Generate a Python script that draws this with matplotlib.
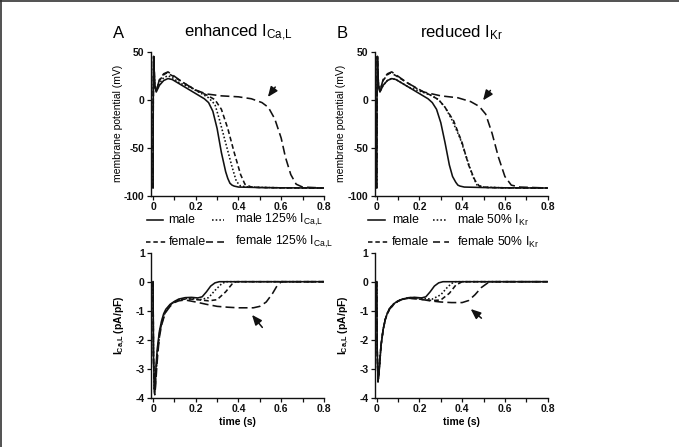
import numpy as np
import matplotlib
matplotlib.use("Agg")
from matplotlib import pyplot as plt
from matplotlib.lines import Line2D

plt.rcParams['font.family'] = ['Liberation Sans', 'DejaVu Sans']
plt.rcParams['mathtext.default'] = 'regular'
plt.rcParams['axes.unicode_minus'] = False

####### data #######
# membrane potential (mV), panel A / B
t_male = [0, 0.001, 0.003, 0.008, 0.015, 0.03, 0.05, 0.07, 0.09, 0.12, 0.15, 0.18, 0.21, 0.24, 0.26,
          0.28, 0.30, 0.32, 0.34, 0.35, 0.36, 0.37, 0.38, 0.40, 0.5, 0.6, 0.8]
v_male = [-92, 0, 45, 15, 8, 15, 20, 22, 21, 17, 13, 9, 5, 1, -3,
          -12, -30, -55, -75, -82, -87, -89, -90, -91, -91.5, -91.8, -92]

t_m125 = [0, 0.001, 0.003, 0.008, 0.015, 0.03, 0.05, 0.07, 0.09, 0.12, 0.18, 0.23, 0.26, 0.29, 0.31,
          0.34, 0.37, 0.39, 0.41, 0.45, 0.6, 0.8]
v_m125 = [-92, 0, 45, 15, 9, 17, 23, 25, 23, 18, 12, 6, 2, -5, -20,
          -45, -70, -85, -90, -91, -91.8, -92]

t_fem = [0, 0.001, 0.003, 0.008, 0.015, 0.03, 0.05, 0.065, 0.09, 0.14, 0.2, 0.25, 0.29, 0.32, 0.35,
         0.38, 0.41, 0.43, 0.46, 0.5, 0.6, 0.8]
v_fem = [-92, 0, 45, 15, 9, 20, 26, 28, 25, 18, 10, 5, 0, -10, -30,
         -55, -78, -88, -91, -91.5, -91.8, -92]

t_f125 = [0, 0.001, 0.003, 0.008, 0.015, 0.03, 0.05, 0.07, 0.09, 0.14, 0.2, 0.25, 0.32, 0.4, 0.46,
          0.51, 0.54, 0.57, 0.6, 0.62, 0.645, 0.67, 0.7, 0.8]
v_f125 = [-92, 0, 45, 15, 9, 21, 27, 29, 26, 18, 10, 6, 4, 3, 1,
          -3, -8, -20, -40, -60, -78, -88, -91, -92]

t_male_b = [0, 0.001, 0.003, 0.008, 0.015, 0.03, 0.05, 0.07, 0.09, 0.12, 0.15, 0.18, 0.21, 0.24, 0.26,
            0.28, 0.30, 0.32, 0.34, 0.355, 0.37, 0.38, 0.39, 0.41, 0.5, 0.6, 0.8]
v_male_b = [-92, 0, 45, 15, 8, 15, 20, 22, 21, 17, 13, 9, 5, 1, -3,
            -10, -24, -45, -68, -80, -86, -89, -90, -91, -91.5, -91.8, -92]

t_m50 = [0, 0.001, 0.003, 0.008, 0.015, 0.03, 0.05, 0.07, 0.09, 0.12, 0.15, 0.2, 0.25, 0.29, 0.32,
         0.35, 0.39, 0.42, 0.45, 0.47, 0.5, 0.6, 0.8]
v_m50 = [-92, 0, 45, 15, 8, 15, 20, 22, 21, 17, 13, 9, 5, 0, -8,
         -20, -40, -60, -80, -89, -91, -91.8, -92]

t_fem_b = [0, 0.001, 0.003, 0.008, 0.015, 0.03, 0.05, 0.065, 0.09, 0.14, 0.2, 0.25, 0.29, 0.32, 0.36,
           0.40, 0.43, 0.46, 0.48, 0.52, 0.6, 0.8]
v_fem_b = [-92, 0, 45, 15, 9, 20, 26, 28, 25, 18, 10, 5, 0, -8, -22,
           -45, -68, -84, -90, -91.5, -91.8, -92]

t_f50 = [0, 0.001, 0.003, 0.008, 0.015, 0.03, 0.05, 0.07, 0.09, 0.14, 0.22, 0.3, 0.38, 0.44, 0.48,
         0.51, 0.54, 0.57, 0.6, 0.63, 0.67, 0.8]
v_f50 = [-92, 0, 45, 15, 9, 21, 27, 29, 26, 18, 8, 4, 2, -2, -7,
         -15, -35, -60, -80, -89, -91, -92]

# L-type calcium current (pA/pF)
ti_male = [0, 0.002, 0.006, 0.01, 0.015, 0.02, 0.03, 0.04, 0.05, 0.06, 0.08, 0.1, 0.12, 0.15, 0.18,
           0.21, 0.23, 0.25, 0.27, 0.29, 0.31, 0.8]
ii_male = [0, -2.5, -3.7, -3.4, -2.8, -2.3, -1.7, -1.35, -1.1, -0.95, -0.78, -0.68, -0.6, -0.55, -0.54,
           -0.56, -0.52, -0.35, -0.15, -0.04, 0, 0]

ti_m125 = [0, 0.002, 0.007, 0.011, 0.016, 0.021, 0.03, 0.04, 0.05, 0.06, 0.08, 0.1, 0.12, 0.15, 0.18,
           0.22, 0.26, 0.29, 0.32, 0.34, 0.8]
ii_m125 = [0, -2.6, -3.8, -3.5, -2.9, -2.4, -1.8, -1.4, -1.15, -1.0, -0.8, -0.7, -0.62, -0.58, -0.58,
           -0.62, -0.55, -0.3, -0.08, 0, 0]

ti_fem = [0, 0.002, 0.007, 0.011, 0.016, 0.021, 0.03, 0.04, 0.05, 0.06, 0.08, 0.1, 0.12, 0.15, 0.18,
          0.22, 0.26, 0.3, 0.34, 0.37, 0.39, 0.8]
ii_fem = [0, -2.6, -3.85, -3.5, -2.9, -2.4, -1.8, -1.45, -1.2, -1.02, -0.82, -0.7, -0.64, -0.6, -0.6,
          -0.63, -0.66, -0.62, -0.35, -0.08, 0, 0]

ti_f125 = [0, 0.002, 0.008, 0.012, 0.017, 0.022, 0.03, 0.04, 0.05, 0.06, 0.08, 0.1, 0.12, 0.15, 0.2,
           0.25, 0.3, 0.35, 0.4, 0.47, 0.5, 0.53, 0.56, 0.58, 0.6, 0.8]
ii_f125 = [0, -2.7, -3.9, -3.6, -3.0, -2.5, -1.9, -1.5, -1.25, -1.05, -0.85, -0.72, -0.66, -0.63, -0.7,
           -0.78, -0.85, -0.88, -0.9, -0.9, -0.85, -0.7, -0.4, -0.15, 0, 0]

ti_male_b = ti_male
ii_male_b = [0, -2.3, -3.4, -3.2, -2.7, -2.2, -1.65, -1.3, -1.08, -0.92, -0.76, -0.66, -0.6, -0.55, -0.54,
             -0.56, -0.52, -0.35, -0.15, -0.04, 0, 0]

ti_m50 = [0, 0.002, 0.006, 0.01, 0.015, 0.02, 0.03, 0.04, 0.05, 0.06, 0.08, 0.1, 0.12, 0.15, 0.18,
          0.22, 0.26, 0.3, 0.33, 0.35, 0.37, 0.8]
ii_m50 = [0, -2.3, -3.45, -3.2, -2.7, -2.2, -1.65, -1.3, -1.08, -0.92, -0.76, -0.66, -0.6, -0.55, -0.55,
          -0.58, -0.6, -0.45, -0.2, -0.06, 0, 0]

ti_fem_b = [0, 0.002, 0.006, 0.01, 0.015, 0.02, 0.03, 0.04, 0.05, 0.06, 0.08, 0.1, 0.12, 0.15, 0.18,
            0.22, 0.26, 0.3, 0.34, 0.37, 0.4, 0.8]
ii_fem_b = [0, -2.3, -3.45, -3.2, -2.7, -2.2, -1.65, -1.3, -1.1, -0.95, -0.78, -0.67, -0.61, -0.57, -0.58,
            -0.62, -0.65, -0.63, -0.4, -0.12, 0, 0]

ti_f50 = [0, 0.002, 0.006, 0.01, 0.015, 0.02, 0.03, 0.04, 0.05, 0.06, 0.08, 0.1, 0.12, 0.15, 0.2,
          0.25, 0.3, 0.35, 0.4, 0.43, 0.46, 0.49, 0.52, 0.54, 0.8]
ii_f50 = [0, -2.3, -3.45, -3.2, -2.7, -2.2, -1.65, -1.3, -1.1, -0.95, -0.78, -0.67, -0.61, -0.57, -0.6,
          -0.66, -0.7, -0.72, -0.72, -0.65, -0.45, -0.2, -0.04, 0, 0]

titles = ['enhanced I$_{Ca{,}L}$', 'reduced I$_{Kr}$']
letters = ['A', 'B']
leg_labels = [['male', 'male 125% I$_{Ca{,}L}$', 'female', 'female 125% I$_{Ca{,}L}$'],
              ['male', 'male 50% I$_{Kr}$', 'female', 'female 50% I$_{Kr}$']]
# arrows (tail, head) in data coordinates
arrows_top = [((0.58, 15.5), (0.53, 0.5)), ((0.54, 12), (0.49, -3))]
arrows_bot = [((0.52, -1.65), (0.455, -1.07)), ((0.50, -1.32), (0.43, -0.88))]

######## styles ########
styles = ['-', (0, (1, 1.3)), (0, (3, 1.8)), (0, (5.6, 2.6))]
leg_styles = ['-', (0, (1, 1.3)), (0, (2.8, 1.8)), (0, (4.4, 2.6))]
lw = 1.15
col = '#111111'

W, H = 679, 447
fig = plt.figure(figsize=(W / 100, H / 100), dpi=100)

def fax(l, t, w, h):
    return fig.add_axes([l / W, 1 - (t + h) / H, w / W, h / H])

def style_ax(ax, ylim, yticks):
    ax.set_xlim(-0.01, 0.8)
    ax.set_ylim(*ylim)
    for s in ['top', 'right']:
        ax.spines[s].set_visible(False)
    for s in ['left', 'bottom']:
        ax.spines[s].set_linewidth(1.0)
        ax.spines[s].set_color(col)
    ax.set_xticks([0, 0.2, 0.4, 0.6, 0.8])
    ax.set_xticklabels(['0', '0.2', '0.4', '0.6', '0.8'])
    ax.set_xticks([0.1, 0.3, 0.5, 0.7], minor=True)
    ax.set_yticks(yticks)
    ax.tick_params(which='both', direction='out', length=3, width=0.9, colors=col,
                   labelsize=7.5, pad=1.5)
    for lab in ax.get_xticklabels() + ax.get_yticklabels():
        lab.set_fontweight('bold')

panels = [
    dict(x0=150.9, top=[(t_male, v_male), (t_m125, v_m125), (t_fem, v_fem), (t_f125, v_f125)],
         bot=[(ti_male, ii_male), (ti_m125, ii_m125), (ti_fem, ii_fem), (ti_f125, ii_f125)],
         leg=[(220, [(147, 163, 0, 168), (212, 224, 1, 235)]),
              (242, [(146, 166, 2, 169), (206, 224, 3, 235)])]),
    dict(x0=374.6, top=[(t_male_b, v_male_b), (t_m50, v_m50), (t_fem_b, v_fem_b), (t_f50, v_f50)],
         bot=[(ti_male_b, ii_male_b), (ti_m50, ii_m50), (ti_fem_b, ii_fem_b), (ti_f50, ii_f50)],
         leg=[(220, [(368, 385, 0, 392), (433, 446, 1, 457)]),
              (242, [(368, 390, 2, 392), (433, 449, 3, 457)])]),
]

for k, p in enumerate(panels):
    x0 = p['x0']
    ax1 = fax(x0, 51.7, 173, 144)
    for (tt, vv), ls in zip(p['top'], styles):
        ax1.plot(tt, vv, color=col, ls=ls, lw=lw)
    style_ax(ax1, (-100, 50), [50, 0, -50, -100])
    ax1.set_ylabel('membrane potential (mV)', fontsize=7.5, labelpad=1)
    a = arrows_top[k]
    ax1.annotate('', xy=a[1], xytext=a[0],
                 arrowprops=dict(arrowstyle='-|>,head_length=0.6,head_width=0.25', color=col, lw=1.1))

    ax2 = fax(x0, 252.7, 173, 145)
    for (tt, vv), ls in zip(p['bot'], styles):
        ax2.plot(tt, vv, color=col, ls=ls, lw=lw)
    style_ax(ax2, (-4, 1), [1, 0, -1, -2, -3, -4])
    ax2.set_ylabel('I$_{Ca{,}L}$ (pA/pF)', fontsize=7.5, labelpad=6, fontweight='bold')
    ax2.set_xlabel('time (s)', fontsize=7.5, labelpad=2, fontweight='bold')
    a = arrows_bot[k]
    ax2.annotate('', xy=a[1], xytext=a[0],
                 arrowprops=dict(arrowstyle='-|>,head_length=0.6,head_width=0.25', color=col, lw=1.1))

    # panel titles
    cx = x0 + 2 + 85
    fig.text((x0 - 38) / W, 1 - 33 / H, letters[k], fontsize=12, va='center', ha='left')
    fig.text(cx / W, 1 - 33 / H, titles[k], fontsize=12, va='center', ha='center')

    # legend between the panels
    for y, items in p['leg']:
        for xa, xb, i, xt in items:
            fig.add_artist(Line2D([xa / W, xb / W], [1 - y / H, 1 - y / H],
                                  color=col, ls=leg_styles[i], lw=lw, transform=fig.transFigure))
            fig.text(xt / W, 1 - y / H, leg_labels[k][i], fontsize=8.8, va='center', ha='left')

# frame lines at left / top edge
fig.add_artist(Line2D([0.5 / W, 0.5 / W], [0, 1], color='#333333', lw=1.2, transform=fig.transFigure))
fig.add_artist(Line2D([0, 1], [1 - 1 / H, 1 - 1 / H], color='#333333', lw=1.2, transform=fig.transFigure))

fig.savefig('out.png', dpi=100)
